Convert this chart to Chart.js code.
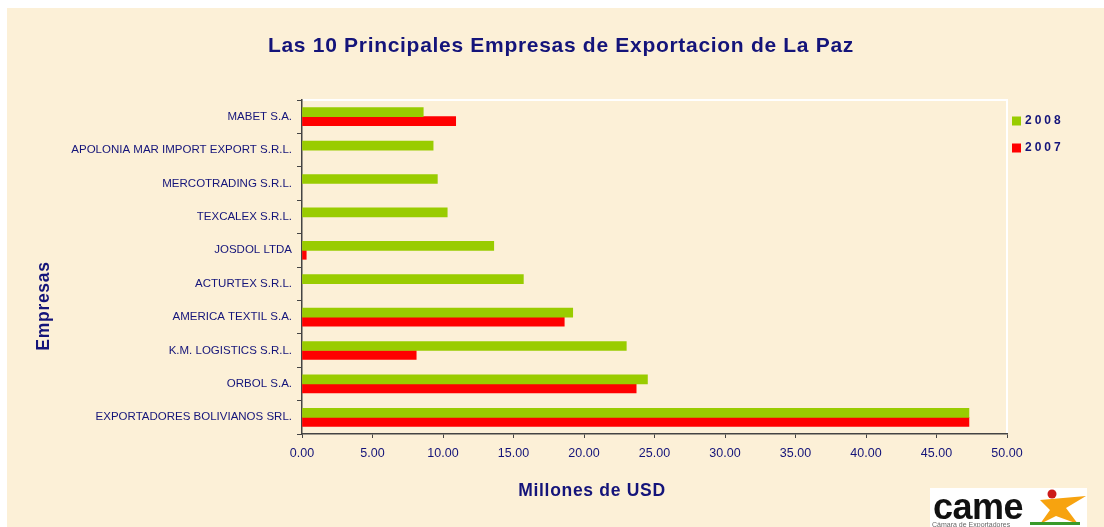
<!DOCTYPE html>
<html>
<head>
<meta charset="utf-8">
<script src="https://cdn.jsdelivr.net/npm/chart.js@4"></script>
<style>
  html, body { margin: 0; padding: 0; background: #fff; }
  #wrap { width: 1104px; height: 527px; }
</style>
</head>
<body>
<div id="wrap"><canvas id="myChart" width="1104" height="527"></canvas></div>
<script>
const categories = [
  "MABET S.A.",
  "APOLONIA MAR IMPORT EXPORT S.R.L.",
  "MERCOTRADING S.R.L.",
  "TEXCALEX S.R.L.",
  "JOSDOL LTDA",
  "ACTURTEX S.R.L.",
  "AMERICA TEXTIL S.A.",
  "K.M. LOGISTICS S.R.L.",
  "ORBOL S.A.",
  "EXPORTADORES BOLIVIANOS SRL."
];
const seriesNames = ["2008", "2007"];
const values2008 = [8.6, 9.3, 9.6, 10.3, 13.6, 15.7, 19.2, 23.0, 24.5, 47.3];
const values2007 = [10.9, null, null, null, 0.3, null, 18.6, 8.1, 23.7, 47.3];
const xTicks = [0, 5, 10, 15, 20, 25, 30, 35, 40, 45, 50];

const titleText = "Las 10 Principales Empresas de Exportacion de La Paz";
const xTitle = "Millones de USD";
const yTitle = "Empresas";

const NAVY = "#14147a";
const FONT = "Arial, 'Liberation Sans', sans-serif";
const colors = ["#99cc00", "#ff0000"];

// background, plot border, title, legend, axis titles, logo
const decor = {
  id: "decor",
  beforeDraw(chart) {
    const c = chart.ctx;
    c.save();
    c.fillStyle = "#ffffff";
    c.fillRect(0, 0, chart.width, chart.height);
    c.fillStyle = "#fcf0d7";
    c.fillRect(7, 8, chart.width - 7, chart.height - 8);
    c.restore();
  },
  afterDraw(chart) {
    const c = chart.ctx;
    const a = chart.chartArea;
    c.save();
    // white plot frame top / right
    c.strokeStyle = "#ffffff";
    c.lineWidth = 2;
    c.beginPath();
    c.moveTo(a.left + 1, a.top);
    c.lineTo(a.right, a.top);
    c.lineTo(a.right, a.bottom - 1);
    c.stroke();

    // title
    c.fillStyle = NAVY;
    c.textAlign = "center";
    c.textBaseline = "middle";
    c.font = "bold 21px " + FONT;
    c.letterSpacing = "0.7px";
    c.fillText(titleText, 561, 46);

    // legend
    c.textAlign = "left";
    c.font = "bold 12px " + FONT;
    c.letterSpacing = "3px";
    seriesNames.forEach((name, i) => {
      const y = 121 + i * 27;
      c.fillStyle = colors[i];
      c.fillRect(1012, y - 4.5, 9, 9);
      c.fillStyle = NAVY;
      c.fillText(name, 1025, y);
    });

    // axis titles
    c.fillStyle = NAVY;
    c.font = "bold 17.5px " + FONT;
    c.letterSpacing = "0.7px";
    c.textAlign = "center";
    c.fillText(xTitle, 592, 491);
    c.translate(44, 306);
    c.rotate(-Math.PI / 2);
    c.fillText(yTitle, 0, 0);
    c.setTransform(1, 0, 0, 1, 0, 0);
    c.letterSpacing = "0px";

    // camex logo
    c.fillStyle = "#ffffff";
    c.fillRect(930, 488, 157, 39);
    c.fillStyle = "#f7a30f";
    c.beginPath();
    c.moveTo(1040, 500); c.lineTo(1086, 496); c.lineTo(1066, 508);
    c.lineTo(1078, 524); c.lineTo(1056, 516); c.lineTo(1040, 524);
    c.lineTo(1050, 510); c.closePath();
    c.fill();
    c.fillStyle = "#cc1a1a";
    c.beginPath();
    c.arc(1052, 494, 4.5, 0, Math.PI * 2);
    c.fill();
    c.fillStyle = "#3a9a2a";
    c.fillRect(1030, 522, 50, 3);
    c.fillStyle = "#111111";
    c.font = "bold 36px " + FONT;
    c.textAlign = "left";
    c.textBaseline = "alphabetic";
    c.letterSpacing = "-0.5px";
    c.fillText("came", 933, 519);
    c.letterSpacing = "0px";
    c.fillStyle = "#666";
    c.font = "7px " + FONT;
    c.fillText("Cámara de Exportadores", 932, 527);
    c.restore();
  }
};

const ctx = document.getElementById("myChart");
const myChart = new Chart(ctx, {
  type: "bar",
  data: {
    labels: categories,
    datasets: [
      { label: seriesNames[0], data: values2008, backgroundColor: colors[0], barThickness: 9 },
      { label: seriesNames[1], data: values2007, backgroundColor: colors[1], barThickness: 9 }
    ]
  },
  options: {
    responsive: false,
    animation: false,
    indexAxis: "y",
    layout: { padding: { left: 0, right: 97, top: 100, bottom: 0 } },
    plugins: {
      legend: { display: false },
      tooltip: { enabled: false },
      title: { display: false }
    },
    scales: {
      x: {
        min: 0,
        max: 50,
        afterBuildTicks(scale) {
          scale.ticks = xTicks.map((v) => ({ value: v }));
        },
        afterFit(scale) { scale.height = 93; },
        border: { display: true, color: "#444", width: 1.5 },
        grid: { drawOnChartArea: false, drawTicks: true, tickLength: 4, color: "#444" },
        ticks: {
          color: NAVY,
          padding: 8,
          font: { family: FONT, size: 12.5 },
          callback: (v) => Number(v).toFixed(2)
        }
      },
      y: {
        afterFit(scale) { scale.width = 302; },
        border: { display: true, color: "#444", width: 1.5 },
        grid: { drawOnChartArea: false, drawTicks: true, tickLength: 5, color: "#444", offset: true },
        ticks: {
          color: NAVY,
          padding: 5,
          font: { family: FONT, size: 11.5 }
        }
      }
    }
  },
  plugins: [decor]
});
</script>
</body>
</html>
